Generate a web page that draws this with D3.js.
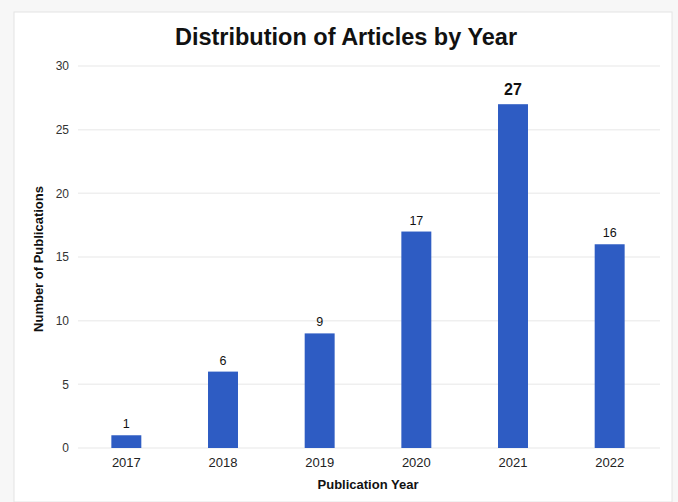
<!DOCTYPE html>
<html lang="en">
  <head>
    <meta charset="UTF-8" />
    <title>Distribution of Articles by Year</title>
    <style>
      body { margin: 0; background: #fff; }
      text { font-family: "Liberation Sans", Arial, sans-serif; }
    </style>
  </head>
  <body>
    <svg width="678" height="502" id="svg"></svg>
    <script src="https://cdn.jsdelivr.net/npm/d3@7/dist/d3.min.js"></script>
    <script>
      // data
      const years = ["2017", "2018", "2019", "2020", "2021", "2022"];
      const counts = [1, 6, 9, 17, 27, 16];
      const yTicks = [0, 5, 10, 15, 20, 25, 30];

      const svg = d3.select("#svg");
      const margin = { top: 66, left: 78, right: 20, bottom: 54 };
      const width = +svg.attr("width");
      const height = +svg.attr("height");

      // faint page frame
      svg.append("rect").attr("width", width).attr("height", height).attr("fill", "#f7f7f7");
      svg.append("rect")
        .attr("x", 14).attr("y", 12)
        .attr("width", 658).attr("height", height - 12)
        .attr("fill", "#fff")
        .attr("stroke", "#e4e4e4");

      const x = d3.scaleBand()
        .domain(years)
        .range([margin.left, width - margin.right])
        .paddingInner(0.69)
        .paddingOuter(0.345);

      const y = d3.scaleLinear()
        .domain([0, 30])
        .range([height - margin.bottom, margin.top]);

      // grid lines
      svg.append("g")
        .selectAll("line")
        .data(yTicks)
        .join("line")
        .attr("x1", margin.left)
        .attr("x2", width - margin.right + 2)
        .attr("y1", d => y(d))
        .attr("y2", d => y(d))
        .attr("stroke", "#efefef")
        .attr("stroke-width", 1.5);

      // y axis (labels only)
      const yAxis = svg.append("g")
        .attr("transform", `translate(${margin.left - 4},0)`)
        .call(d3.axisLeft(y).tickValues(yTicks).tickSize(0).tickPadding(5));
      yAxis.select(".domain").remove();
      yAxis.selectAll("text")
        .attr("font-size", 12)
        .attr("fill", "#333")
        .style("font-family", "Liberation Sans, Arial, sans-serif");

      // x axis (labels only)
      const xAxis = svg.append("g")
        .attr("transform", `translate(0,${height - margin.bottom})`)
        .call(d3.axisBottom(x).tickSize(0).tickPadding(10));
      xAxis.select(".domain").remove();
      xAxis.selectAll("text")
        .attr("font-size", 13)
        .attr("fill", "#222")
        .style("font-family", "Liberation Sans, Arial, sans-serif");

      const data = years.map((yr, i) => ({ year: yr, count: counts[i] }));
      const maxCount = d3.max(counts);

      // bars
      svg.append("g")
        .selectAll("rect")
        .data(data)
        .join("rect")
        .attr("x", d => x(d.year))
        .attr("y", d => y(d.count))
        .attr("width", x.bandwidth())
        .attr("height", d => y(0) - y(d.count))
        .attr("fill", "#2e5cc3");

      // value labels
      svg.append("g")
        .selectAll("text")
        .data(data)
        .join("text")
        .attr("x", d => x(d.year) + x.bandwidth() / 2)
        .attr("y", d => y(d.count) - (d.count === maxCount ? 9 : 7))
        .attr("text-anchor", "middle")
        .attr("font-size", d => d.count === maxCount ? 16 : 12.5)
        .attr("font-weight", d => d.count === maxCount ? "bold" : "normal")
        .attr("fill", "#111")
        .text(d => d.count);

      // title
      svg.append("text")
        .attr("x", 346)
        .attr("y", 45)
        .attr("text-anchor", "middle")
        .attr("font-size", 23.5)
        .attr("font-weight", "bold")
        .attr("fill", "#111")
        .text("Distribution of Articles by Year");

      // axis titles
      svg.append("text")
        .attr("x", 368)
        .attr("y", 489)
        .attr("text-anchor", "middle")
        .attr("font-size", 13)
        .attr("font-weight", "bold")
        .attr("fill", "#111")
        .text("Publication Year");

      svg.append("text")
        .attr("transform", `translate(43,${(y(0) + y(30)) / 2 + 2}) rotate(-90)`)
        .attr("text-anchor", "middle")
        .attr("font-size", 13)
        .attr("font-weight", "bold")
        .attr("fill", "#111")
        .text("Number of Publications");
    </script>
  </body>
</html>
